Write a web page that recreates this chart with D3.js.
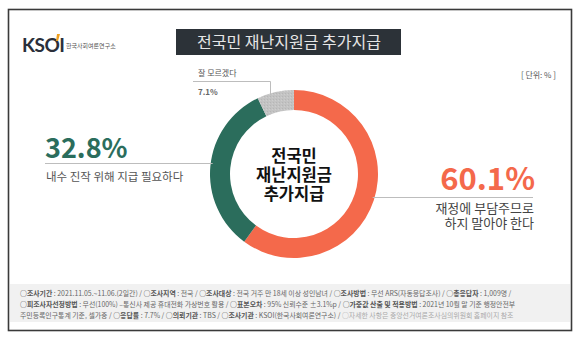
<!DOCTYPE html>
<html>
<head>
<meta charset="utf-8">
<script src="https://cdn.jsdelivr.net/npm/d3@7/dist/d3.min.js"></script>
<style>
  html, body { margin: 0; padding: 0; background: #ffffff; }
  svg { display: block; font-family: "Noto Sans CJK KR", "Noto Sans", sans-serif; }
</style>
</head>
<body>
<svg id="chart" width="580" height="340"></svg>
<script>
// Survey result: 전국민 재난지원금 추가지급
const titleText = "전국민 재난지원금 추가지급";
const centerLines = ["전국민", "재난지원금", "추가지급"];
const unitLabel = "[ 단위: % ]";
const categories = ["재정에 부담주므로 하지 말아야 한다", "내수 진작 위해 지급 필요하다", "잘 모르겠다"];
const values = [60.1, 32.8, 7.1];
const sliceColors = ["#f4694b", "#2b6d5c", "#c3c3c3"];
const footerLines = [
  [["○조사기간", " : 2021.11.05.~11.06.(2일간)  /  "], ["○조사지역", " : 전국 / "], ["○조사대상", " : 전국 거주 만 18세 이상 성인남녀 / "], ["○조사방법", " : 무선 ARS(자동응답조사) / "], ["○총응답자", " : 1,009명 /"]],
  [["○피조사자선정방법", " : 무선(100%) –통신사 제공 휴대전화 가상번호 활용 / "], ["○표본오차", " : 95% 신뢰수준 ±3.1%p / "], ["○가중값 산출 및 적용방법", " : 2021년 10월 말 기준 행정안전부"]],
  [["", "주민등록인구통계 기준, 셀가중 / "], ["○응답률", " : 7.7% / "], ["○의뢰기관", " : TBS / "], ["○조사기관", " : KSOI(한국사회여론연구소) / "], ["", "○자세한 사항은 중앙선거여론조사심의위원회 홈페이지 참조", true]]
];

const svg = d3.select("#chart");

// frame
svg.append("rect").attr("x", 8.5).attr("y", 9.5).attr("width", 563).attr("height", 321)
  .attr("fill", "#ffffff").attr("stroke", "#3a3a3a").attr("stroke-width", 1.6);

// logo
const logo = svg.append("g").attr("transform", "translate(22,52)");
logo.append("text").attr("x", 0).attr("y", 0).attr("font-family", "Lato, 'Open Sans', sans-serif")
  .attr("font-weight", 700).attr("font-size", 19).attr("fill", "#2a2f3a").attr("letter-spacing", -0.5).text("KSOI");
logo.append("path").attr("d", "M35,-18 L38,-18 L36,-11 L34,-11 Z").attr("fill", "#f0a020");
logo.append("text").attr("x", 44).attr("y", -4).attr("font-size", 6).attr("fill", "#555").text("한국사회여론연구소");

// title box
svg.append("rect").attr("x", 176).attr("y", 29).attr("width", 225).attr("height", 26).attr("fill", "#2c3238");
svg.append("text").attr("x", 289).attr("y", 48).attr("text-anchor", "middle").attr("font-size", 16)
  .attr("font-weight", 400).attr("fill", "#e6e6e6").text(titleText);

// unit
svg.append("text").attr("x", 556).attr("y", 78).attr("text-anchor", "end").attr("font-size", 8)
  .attr("fill", "#555").text(unitLabel);

// donut
const cx = 294, cy = 174, rOuter = 84, rInner = 64;
const pie = d3.pie().sort(null).value(d => d)(values);
const arc = d3.arc().innerRadius(rInner).outerRadius(rOuter);

const defs = svg.append("defs");
const pat = defs.append("pattern").attr("id", "speckle").attr("patternUnits", "userSpaceOnUse")
  .attr("width", 3).attr("height", 3);
pat.append("rect").attr("width", 3).attr("height", 3).attr("fill", sliceColors[2]);
pat.append("rect").attr("x", 0).attr("y", 0).attr("width", 1).attr("height", 1).attr("fill", "#b6b6b6");
pat.append("rect").attr("x", 2).attr("y", 1).attr("width", 1).attr("height", 1).attr("fill", "#cecece");

const donut = svg.append("g").attr("transform", `translate(${cx},${cy})`);
donut.selectAll("path").data(pie).join("path")
  .attr("d", arc)
  .attr("fill", (d, i) => i === 2 ? "url(#speckle)" : sliceColors[i]);

// center title, one text block with stacked lines
const centerText = donut.append("text").attr("text-anchor", "middle")
  .attr("font-size", 16.5).attr("font-weight", 700).attr("fill", "#111");
centerLines.forEach((t, i) => {
  centerText.append("tspan").attr("x", 0).attr("y", -12 + i * 19).text(t);
});

// x on outer circle for a given y (left or right side)
function edgeX(y, side) {
  const dy = y - cy;
  return cx + side * Math.sqrt(Math.max(0, rOuter * rOuter - dy * dy));
}
const lineColor = "#bdbdbd";

// green label (left)
const gY = 163.5;
svg.append("line").attr("x1", 45).attr("x2", edgeX(gY, -1) + 2).attr("y1", gY).attr("y2", gY)
  .attr("stroke", lineColor).attr("stroke-width", 1);
svg.append("text").attr("x", 45).attr("y", 158).attr("font-size", 27).attr("font-weight", 700)
  .attr("fill", sliceColors[1]).text(values[1].toFixed(1) + "%");
svg.append("text").attr("x", 46).attr("y", 181).attr("font-size", 11.5)
  .attr("fill", "#555").text(categories[1]);

// orange label (right)
const oY = 197.5;
svg.append("line").attr("x1", edgeX(oY, 1) - 2).attr("x2", 533).attr("y1", oY).attr("y2", oY)
  .attr("stroke", lineColor).attr("stroke-width", 1);
svg.append("text").attr("x", 535).attr("y", 190).attr("text-anchor", "end").attr("font-size", 31)
  .attr("font-weight", 700).attr("fill", sliceColors[0]).text(values[0].toFixed(1) + "%");
const oWords = categories[0].split(" ");
const oLines = [oWords.slice(0, 2).join(" "), oWords.slice(2).join(" ")];
const oText = svg.append("text").attr("text-anchor", "end").attr("font-size", 13).attr("fill", "#444");
oLines.forEach((t, i) => {
  oText.append("tspan").attr("x", 534).attr("y", 213 + i * 15).text(t);
});

// gray label (top)
const kY = 81.5, kX = 270.5;
const gSlice = pie[2];
const midA = (gSlice.startAngle + gSlice.endAngle) / 2;
svg.append("polyline")
  .attr("points", `193,${kY} ${kX},${kY} ${kX},${cy - rOuter * Math.cos(midA) + 3}`)
  .attr("fill", "none").attr("stroke", lineColor).attr("stroke-width", 1);
svg.append("text").attr("x", 198).attr("y", 76).attr("font-size", 8).attr("fill", "#555").text(categories[2]);
svg.append("text").attr("x", 198).attr("y", 95).attr("font-size", 8).attr("font-weight", 700)
  .attr("fill", "#666").text(values[2].toFixed(1) + "%");

// footer
svg.append("rect").attr("x", 10).attr("y", 284).attr("width", 560).attr("height", 38).attr("fill", "#f1f1f1");
footerLines.forEach((segs, i) => {
  const t = svg.append("text").attr("x", 20).attr("y", 296 + i * 10.8).attr("font-size", 6.9).attr("fill", "#666");
  segs.forEach(s => {
    if (s[0]) t.append("tspan").attr("font-weight", 700).attr("fill", "#555").text(s[0]);
    t.append("tspan").attr("fill", s[2] ? "#aaa" : "#666").text(s[1]);
  });
});
</script>
</body>
</html>
